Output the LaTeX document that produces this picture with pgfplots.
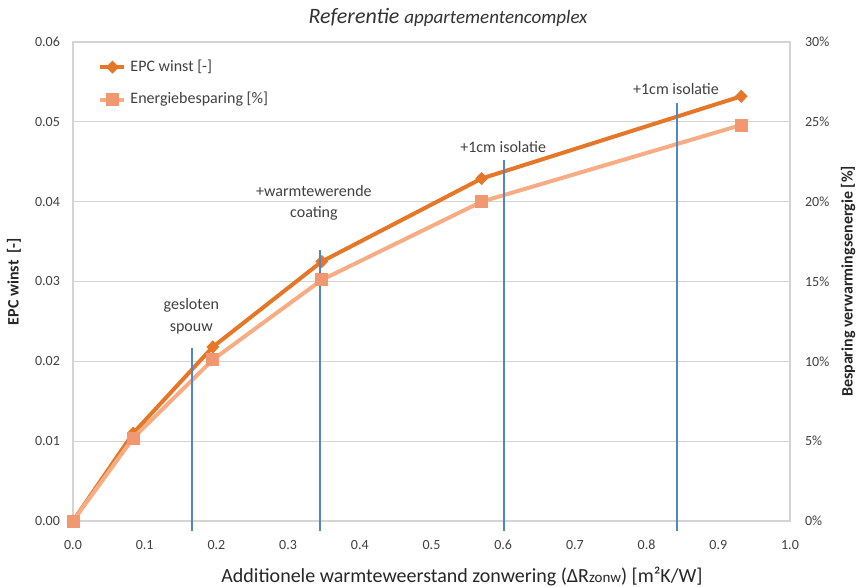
\documentclass[border=0pt]{standalone}
\usepackage{fontspec}
\setmainfont{Carlito}
\usepackage{pgfplots}
\pgfplotsset{compat=1.18}

\definecolor{epc}{RGB}{228,120,40}
\definecolor{besp}{RGB}{248,172,132}
\definecolor{bespmark}{RGB}{241,152,112}
\definecolor{marker}{RGB}{80,135,200}
\definecolor{gridgray}{RGB}{212,212,212}
\definecolor{txt}{RGB}{64,64,64}

\pgfplotsset{
  base/.style={
    scale only axis, width=358.5pt, height=239.5pt,
    at={(0,0)}, anchor=south west,
    xmin=0, xmax=1, clip=false,
    major tick length=0pt,
    tick label style={font=\fontsize{7}{8}\selectfont, text=txt},
    /pgf/number format/assume math mode=true,
    axis line style={gridgray, line width=0.6pt},
  },
  epcline/.style={epc, line width=2pt, mark=diamond*, mark size=3pt,
    mark options={fill=epc, draw=epc, line width=0.4pt, xscale=1.3}},
  bespline/.style={besp, line width=2pt, mark=square*, mark size=3pt,
    mark options={fill=bespmark, draw=bespmark, line width=0.4pt}},
}
\tikzset{annot/.style={font=\fontsize{8}{10.5}\selectfont, text=txt, align=center}}

\begin{document}
\begin{tikzpicture}
\useasboundingbox (-36.5pt,-33pt) rectangle (393pt,260.5pt);

% left axis: EPC gain
\begin{axis}[base,
  ymin=0, ymax=0.06,
  ytick={0,0.01,0.02,0.03,0.04,0.05,0.06},
  xtick={0,0.1,0.2,0.3,0.4,0.5,0.6,0.7,0.8,0.9,1.0},
  scaled y ticks=false, scaled x ticks=false,
  y tick label style={/pgf/number format/fixed, /pgf/number format/fixed zerofill,
    /pgf/number format/precision=2, xshift=-3pt},
  x tick label style={/pgf/number format/fixed, /pgf/number format/fixed zerofill,
    /pgf/number format/precision=1, yshift=-6pt},
  ymajorgrids, grid style={gridgray, line width=0.6pt},
]
\addplot[epcline] coordinates {
  (0,0) (0.084,0.0110) (0.195,0.0218) (0.347,0.0325) (0.570,0.0429) (0.932,0.0532)
};
\node[rotate=90, font=\fontsize{8}{9}\selectfont\bfseries, text=black!85]
  at (axis description cs:-0.0823,0.5) {EPC winst~~[-]};
\node[font=\fontsize{10}{12}\selectfont, text=black!85]
  at (axis description cs:0.5425,-0.115)
  {Additionele warmteweerstand zonwering (ΔR{\fontsize{7.5}{8}\selectfont zonw}) [m²K/W]};
\node[text=black!80] at (axis description cs:0.523,1.052)
  {\itshape\fontsize{11}{12}\selectfont Referentie \fontsize{9.5}{11}\selectfont appartementencomplex};
\end{axis}

% right axis: heating energy saving
\begin{axis}[base,
  ymin=0, ymax=30,
  axis y line*=right, axis x line=none,
  ytick={0,5,10,15,20,25,30},
  yticklabel={\pgfmathprintnumber{\tick}\%},
  y tick label style={anchor=west, xshift=4pt},
  legend image code/.code={\draw[mark repeat=2,mark phase=2]
    plot coordinates {(0pt,0pt) (6pt,0pt) (12pt,0pt)};},
  legend style={at={(axis description cs:0.035,0.972)}, anchor=north west,
    draw=none, fill=none, inner sep=0pt, row sep=5pt,
    font=\fontsize{8}{9}\selectfont, text=txt},
  legend cell align=left,
]
\addlegendimage{epcline}
\addlegendentry{EPC winst [-]}
\addplot[bespline] coordinates {
  (0,0) (0.084,5.2) (0.195,10.1) (0.347,15.1) (0.570,20.0) (0.932,24.8)
};
\addlegendentry{Energiebesparing [\%]}

% measure markers
\addplot[marker, line width=1pt, forget plot] coordinates {(0.166,-0.6) (0.166,10.85)};
\addplot[marker, line width=1pt, forget plot] coordinates {(0.344,-0.6) (0.344,17.0)};
\addplot[marker, line width=1pt, forget plot] coordinates {(0.601,-0.6) (0.601,22.6)};
\addplot[marker, line width=1pt, forget plot] coordinates {(0.842,-0.6) (0.842,26.15)};

\node[annot, font=\fontsize{8}{11}\selectfont] at (axis cs:0.165,12.85) {gesloten\\spouw};
\node[annot] at (axis cs:0.336,19.95) {+warmtewerende\\coating};
\node[annot] at (axis cs:0.600,23.45) {+1cm isolatie};
\node[annot] at (axis cs:0.841,27.05) {+1cm isolatie};

\node[rotate=90, font=\fontsize{8}{9}\selectfont\bfseries, text=black!85]
  at (axis description cs:1.081,0.5) {Besparing verwarmingsenergie [\%]};
\end{axis}
\end{tikzpicture}
\end{document}
